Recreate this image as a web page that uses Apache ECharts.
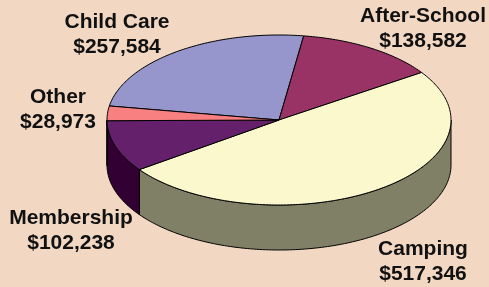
<!DOCTYPE html>
<html>
<head>
<meta charset="utf-8">
<script src="https://cdn.jsdelivr.net/npm/echarts@6/dist/echarts.min.js"></script>
<style>
  html, body { margin: 0; padding: 0; background: #f2d8c3; }
  #chart { width: 489px; height: 287px; }
</style>
</head>
<body>
<div id="chart"></div>
<script>
// data
var categories = ['Child Care', 'After-School', 'Camping', 'Membership', 'Other'];
var values = [257584, 138582, 517346, 102238, 28973];

// look
var topColors = ['#9696cc', '#993366', '#fcf8cd', '#64206a', '#f88080'];
var sideColors = ['#4b4b66', '#4d1a33', '#808066', '#330033', '#7c4040'];
var labelPos = [[117, 35], [423, 29], [423, 262], [71, 231], [58, 110]];

var cx = 279, cy = 120, rx = 172, ry = 85, depth = 45;
var startAngle = 170.5;

var total = values.reduce(function (s, v) { return s + v; }, 0);

function sliceAngles(i) {
  var before = 0;
  for (var k = 0; k < i; k++) before += values[k];
  var a0 = startAngle - before / total * 360;
  var a1 = a0 - values[i] / total * 360;
  return [a0, a1];
}

function pt(deg, dy) {
  var r = deg * Math.PI / 180;
  return [cx + rx * Math.cos(r), cy - ry * Math.sin(r) + (dy || 0)];
}

function arcPoints(a0, a1, dy) {
  var pts = [];
  var n = Math.max(2, Math.ceil(Math.abs(a0 - a1)));
  for (var j = 0; j <= n; j++) {
    pts.push(pt(a0 + (a1 - a0) * j / n, dy));
  }
  return pts;
}

function fmt(v) {
  return '$' + v.toString().replace(/\B(?=(\d{3})+(?!\d))/g, ',');
}

var myChart = echarts.init(document.getElementById('chart'));

myChart.setOption({
  backgroundColor: '#f2d8c3',
  animation: false,
  series: [
    {
      // side walls
      type: 'custom',
      coordinateSystem: 'none',
      z: 1,
      data: values,
      renderItem: function (params, api) {
        var a = sliceAngles(params.dataIndex);
        // front half is between 0 and -180 degrees
        var b0 = Math.min(a[0], 0), b1 = Math.max(a[1], -180);
        if (b0 <= b1) return null;
        var top = arcPoints(b0, b1, 0);
        var bottom = arcPoints(b1, b0, depth);
        return {
          type: 'polygon',
          shape: { points: top.concat(bottom) },
          style: { fill: sideColors[params.dataIndex], stroke: '#000', lineWidth: 1 }
        };
      }
    },
    {
      // top faces + labels
      type: 'custom',
      coordinateSystem: 'none',
      z: 2,
      data: values,
      renderItem: function (params, api) {
        var i = params.dataIndex;
        var a = sliceAngles(i);
        var pts = [[cx, cy]].concat(arcPoints(a[0], a[1], 0));
        return {
          type: 'group',
          children: [
            {
              type: 'polygon',
              shape: { points: pts },
              style: { fill: topColors[i], stroke: '#000', lineWidth: 1, lineJoin: 'round' }
            },
            {
              type: 'text',
              x: labelPos[i][0],
              y: labelPos[i][1],
              z2: 10,
              style: {
                text: categories[i] + '\n' + fmt(values[i]),
                fill: '#111',
                font: 'bold 21px "Liberation Sans", Arial, sans-serif',
                lineHeight: 25,
                align: 'center',
                verticalAlign: 'middle'
              }
            }
          ]
        };
      }
    }
  ]
});
</script>
</body>
</html>
